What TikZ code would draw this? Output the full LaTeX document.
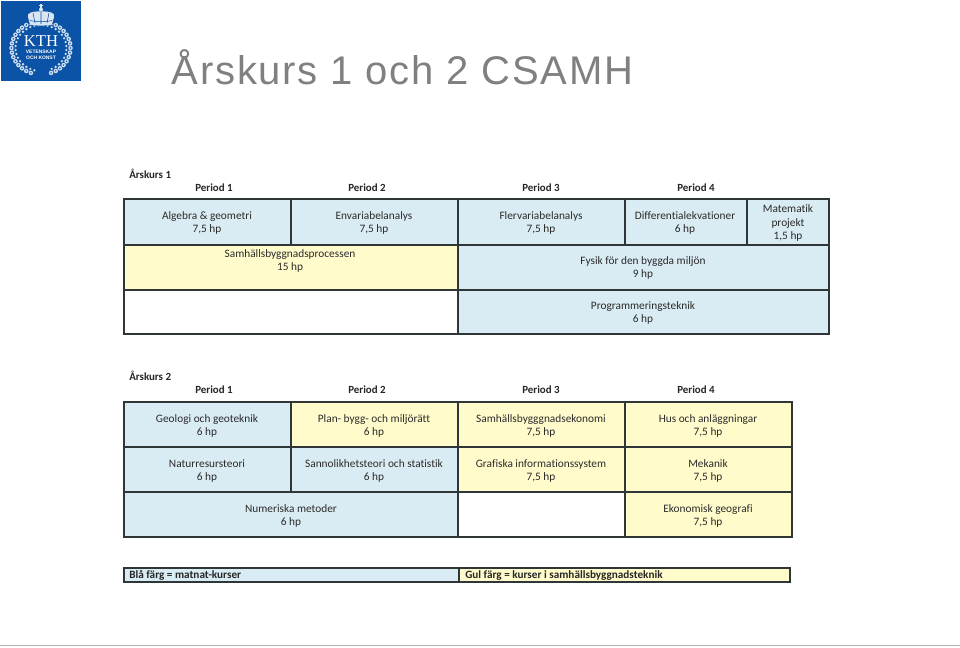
\documentclass[tikz,border=0pt]{standalone}
\usepackage{fontspec}
\setmainfont[Ligatures={NoCommon}]{Carlito}
\newfontfamily\titlefont[LetterSpace=4.4]{Liberation Sans}
\newfontfamily\logofont{Liberation Serif}
\newfontfamily\logosans{Liberation Sans}
\definecolor{kthblue}{HTML}{0B53A7}
\definecolor{cellblue}{HTML}{DAECF3}
\definecolor{cellyellow}{HTML}{FFFBCB}
\definecolor{gridline}{HTML}{2F3637}
\definecolor{tabletext}{HTML}{2A2A2A}
\definecolor{titlegray}{HTML}{808080}
\tikzset{
  x=0.75pt,y=-0.75pt,
  blue cell/.style={fill=cellblue,draw=gridline,line width=0.8pt},
  yellow cell/.style={fill=cellyellow,draw=gridline,line width=0.8pt},
  empty cell/.style={fill=white,draw=gridline,line width=0.8pt},
  lbl/.style={inner sep=0pt,align=center,text=tabletext,font=\fontsize{8.5pt}{10.3pt}\selectfont},
  hdr/.style={inner sep=0pt,text=black!85,font=\fontsize{8.2pt}{10pt}\selectfont\bfseries},
  legendtext/.style={inner sep=0pt,anchor=base west,text=black!85,font=\fontsize{8.4pt}{9pt}\selectfont\bfseries},
}
\begin{document}
\begin{tikzpicture}
\useasboundingbox (0,0) rectangle (960,648);
\fill[white] (0,0) rectangle (960,648);
% logo
\fill[kthblue] (1,1) rectangle (81,81);
\foreach \a in {-70,-60,...,250}{
  \fill[white!80!kthblue] ({41+29.5*cos(\a)},{48-26.5*sin(\a)}) circle (2.3);
  \fill[kthblue] ({41+29.5*cos(\a)},{48-26.5*sin(\a)}) circle (0.8);
  \fill[white!80!kthblue] ({41+25.5*cos(\a+5)},{48-23*sin(\a+5)}) circle (1.3);
}
% crown
\fill[kthblue] (41,19) ellipse (17 and 7);
\fill[white!85!kthblue] (28,17) .. controls (26,13) and (33,11) .. (41,11.5) .. controls (49,11) and (56,13) .. (54,17) -- (52,24.5) .. controls (46,26) and (36,26) .. (30,24.5) -- cycle;
\draw[kthblue,line width=0.4pt] (35,23) -- (33,13) (41,24) -- (41,11.5) (47,23) -- (49,13) (30,20.5) .. controls (36,22) and (46,22) .. (52,20.5);
\fill[white!85!kthblue] (41,9.5) circle (2);
\fill[white!85!kthblue] (40.3,4) rectangle (41.7,9);
\fill[white!85!kthblue] (39,5.3) rectangle (43,6.5);
\node[inner sep=0pt,text=white,font=\fontsize{12.5pt}{12.5pt}\logofont] (logokth) at (41,41) {KTH};
\node[inner sep=0pt,text=white,font=\fontsize{3.7pt}{4pt}\logosans\bfseries] (logoa) at (41,51.5) {VETENSKAP};
\node[inner sep=0pt,text=white,font=\fontsize{3.7pt}{4pt}\logosans\bfseries] (logob) at (41,58) {OCH KONST};
% title
\node[inner sep=0pt,anchor=base west,text=titlegray,font=\fontsize{30pt}{32pt}\titlefont] (title) at (171.5,85) {Årskurs 1 och 2 CSAMH};
% year 1
\node[hdr,anchor=west] (y1) at (129,174) {Årskurs 1};
\node[hdr] (y1p1) at (214,188) {Period 1};
\node[hdr] (y1p2) at (367,188) {Period 2};
\node[hdr] (y1p3) at (541,188) {Period 3};
\node[hdr] (y1p4) at (696,188) {Period 4};
\draw[blue cell] (124,199) rectangle (291,245);
\draw[blue cell] (291,199) rectangle (458,245);
\draw[blue cell] (458,199) rectangle (625,245);
\draw[blue cell] (625,199) rectangle (747,245);
\draw[blue cell] (747,199) rectangle (829,245);
\draw[yellow cell] (124,245) rectangle (458,290);
\draw[blue cell] (458,245) rectangle (829,290);
\draw[empty cell] (124,290) rectangle (458,334);
\draw[blue cell] (458,290) rectangle (829,334);
\node[lbl] (c1) at (207,223) {Algebra \& geometri\\7,5 hp};
\node[lbl] (c2) at (374,223) {Envariabelanalys\\7,5 hp};
\node[lbl] (c3) at (541,223) {Flervariabelanalys\\7,5 hp};
\node[lbl] (c4) at (685,223) {Differentialekvationer\\6 hp};
\node[lbl] (c5) at (788,223) {Matematik\\projekt\\1,5 hp};
\node[lbl] (c6) at (290,261) {Samhällsbyggnadsprocessen\\15 hp};
\node[lbl] (c7) at (643,268) {Fysik för den byggda miljön\\9 hp};
\node[lbl] (c8) at (643,313) {Programmeringsteknik\\6 hp};
% year 2
\node[hdr,anchor=west] (y2) at (129,376) {Årskurs 2};
\node[hdr] (y2p1) at (214,390) {Period 1};
\node[hdr] (y2p2) at (367,390) {Period 2};
\node[hdr] (y2p3) at (541,390) {Period 3};
\node[hdr] (y2p4) at (696,390) {Period 4};
\draw[blue cell] (124,402) rectangle (291,447);
\draw[yellow cell] (291,402) rectangle (458,447);
\draw[yellow cell] (458,402) rectangle (625,447);
\draw[yellow cell] (625,402) rectangle (792,447);
\draw[blue cell] (124,447) rectangle (291,492);
\draw[blue cell] (291,447) rectangle (458,492);
\draw[yellow cell] (458,447) rectangle (625,492);
\draw[yellow cell] (625,447) rectangle (792,492);
\draw[blue cell] (124,492) rectangle (458,537);
\draw[empty cell] (458,492) rectangle (625,537);
\draw[yellow cell] (625,492) rectangle (792,537);
\node[lbl] (d1) at (207,426) {Geologi och geoteknik\\6 hp};
\node[lbl] (d2) at (374,426) {Plan- bygg- och miljörätt\\6 hp};
\node[lbl] (d3) at (541,426) {Samhällsbygggnadsekonomi\\7,5 hp};
\node[lbl] (d4) at (708,426) {Hus och anläggningar\\7,5 hp};
\node[lbl] (d5) at (207,471) {Naturresursteori\\6 hp};
\node[lbl] (d6) at (374,471) {Sannolikhetsteori och statistik\\6 hp};
\node[lbl] (d7) at (541,471) {Grafiska informationssystem\\7,5 hp};
\node[lbl] (d8) at (708,471) {Mekanik\\7,5 hp};
\node[lbl] (d9) at (291,516) {Numeriska metoder\\6 hp};
\node[lbl] (d10) at (708,516) {Ekonomisk geografi\\7,5 hp};
% legend
\draw[blue cell] (124,568) rectangle (459,582);
\draw[yellow cell] (459,568) rectangle (790,582);
\node[legendtext] (leg1) at (129,578.5) {Blå färg = matnat-kurser};
\node[legendtext] (leg2) at (465,578.5) {Gul färg = kurser i samhällsbyggnadsteknik};
% footer line
\fill[black!30] (0,644.5) rectangle (960,646);
\end{tikzpicture}
\end{document}
